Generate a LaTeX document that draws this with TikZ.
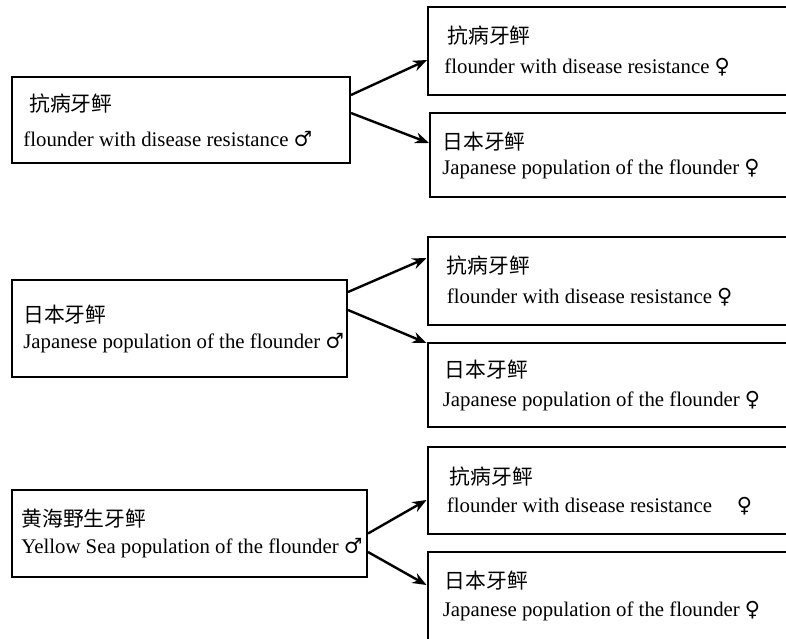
\documentclass[tikz,border=0pt]{standalone}
\usepackage{fontspec}
\setmainfont{Liberation Serif}
\newfontfamily\cjk{Noto Sans CJK SC}
\newfontfamily\symf{DejaVu Serif}
\newcommand{\malesym}{{\symf ♂}}
\newcommand{\femalesym}{{\symf ♀}}
\usetikzlibrary{arrows.meta,positioning}

\tikzset{
  fishbox/.style 2 args={draw, line width=1pt, inner sep=0pt,
    minimum width=#1, minimum height=#2},
  lbl/.style={align=left, inner sep=0pt, font=\fontsize{10.4}{14}\selectfont},
  cross/.style={-{Stealth[length=7pt,width=5.5pt]}, line width=1.2pt},
}

\begin{document}
\begin{tikzpicture}[x=0.5pt, y=-0.5pt]
  \useasboundingbox (0,0) rectangle (786,638);
  \clip (0,0) rectangle (786,638);
  % male parents
  \node[fishbox={169pt}{43pt}]    (L1) at (181,120)   {};
  \node[fishbox={167.5pt}{48.5pt}] (L2) at (179.5,328.5) {};
  \node[fishbox={177.5pt}{43.5pt}] (L3) at (189.5,533.5) {};
  % female parents
  \node[fishbox={191pt}{44pt}]    (R1a) at (619,51)    {};
  \node[fishbox={190pt}{42pt}]    (R1b) at (620,155)   {};
  \node[fishbox={191pt}{44pt}]    (R2a) at (618.5,281) {};
  \node[fishbox={191pt}{42pt}]    (R2b) at (618.5,385) {};
  \node[fishbox={191pt}{43.5pt}]  (R3a) at (618.5,490.5) {};
  \node[fishbox={191pt}{44pt}]    (R3b) at (618.5,596) {};
  % texts
  \node[lbl, right=6pt of L1.west] (L1t) {{\cjk\hspace{3pt}抗病牙鲆}\\[3.5pt]flounder with disease resistance \malesym};
  \node[lbl, right=6pt of L2.west] (L2t) {{\cjk 日本牙鲆}\\[-1pt]Japanese population of the flounder \malesym};
  \node[lbl, right=5pt of L3.west] (L3t) {{\cjk 黄海野生牙鲆}\\[-0.5pt]Yellow Sea population of the flounder \malesym};
  \node[lbl, right=8.5pt of R1a.west] (R1at) {{\cjk\hspace{1.5pt}抗病牙鲆}\\[1pt]flounder with disease resistance \femalesym};
  \node[lbl, right=6.5pt of R1b.west] (R1bt) {{\cjk 日本牙鲆}\\[-1.5pt]Japanese population of the flounder \femalesym};
  \node[lbl, right=10pt of R2a.west] (R2at) {{\cjk 抗病牙鲆}\\[1pt]flounder with disease resistance \femalesym};
  \node[lbl, right=8pt of R2b.west] (R2bt) {{\cjk\hspace{1pt}日本牙鲆}\\[0.5pt]Japanese population of the flounder \femalesym};
  \node[lbl, right=10pt of R3a.west] (R3at) {{\cjk\hspace{1.5pt}抗病牙鲆}\\flounder with disease resistance\hspace{1.2em}\femalesym};
  \node[lbl, right=8pt of R3b.west] (R3bt) {{\cjk\hspace{1pt}日本牙鲆}\\Japanese population of the flounder \femalesym};
  % crosses
  \path[cross]
    ([yshift=12.5pt]L1.east) edge ([yshift=-4.5pt]R1a.west)
    ([yshift=3.5pt]L1.east)  edge ([yshift=6pt]R1b.west)
    ([yshift=18.25pt]L2.east) edge ([yshift=11.5pt]R2a.west)
    ([yshift=9.25pt]L2.east)  edge ([yshift=21pt]R2b.west)
    (L3.east)                 edge ([yshift=-4.75pt]R3a.west)
    ([yshift=-9.25pt]L3.east) edge ([yshift=5.5pt]R3b.west);
\end{tikzpicture}
\end{document}
